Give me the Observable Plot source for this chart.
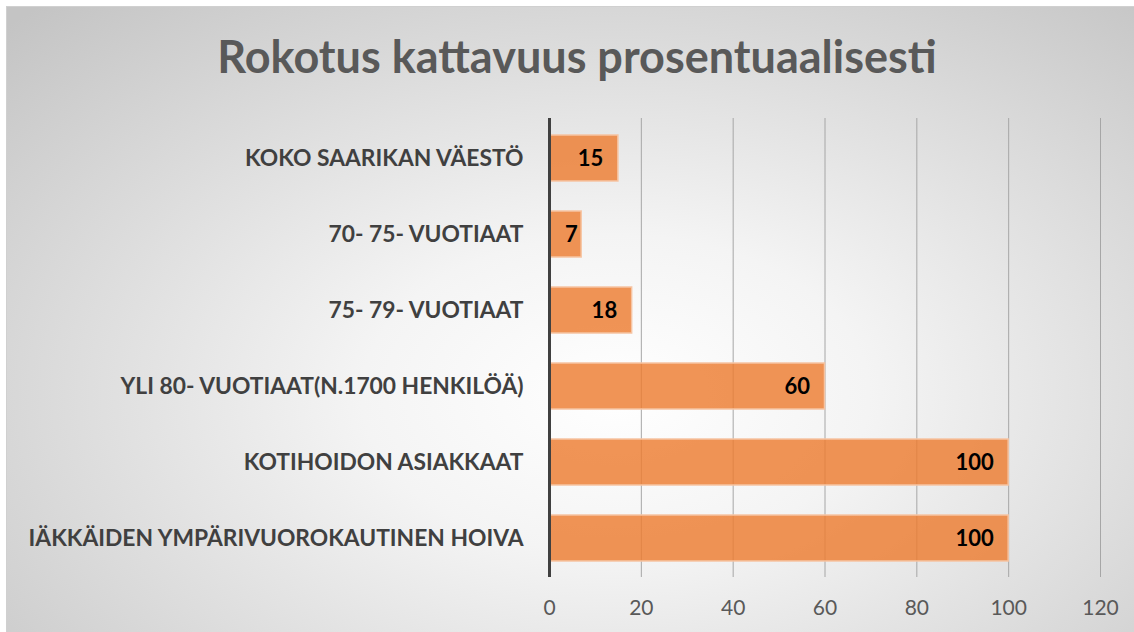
<!DOCTYPE html>
<html><head><meta charset="utf-8">
<script src="https://cdn.jsdelivr.net/npm/d3@7"></script>
<script src="https://cdn.jsdelivr.net/npm/@observablehq/plot@0.6"></script>
<style>
body{margin:0;background:#fff;}
#wrap{position:relative;width:1134px;height:632px;overflow:hidden;background:#fff;}
#bg{position:absolute;left:6px;top:6px;right:0;bottom:0;border-top:1px solid #d0d0d0;border-left:1px solid #d0d0d0;
  background:radial-gradient(ellipse 75% 85% at 54% 62%, #ffffff 0%, #f4f4f4 30%, #dcdcdc 65%, #c4c4c4 100%);}
#title{position:absolute;left:10px;top:29px;width:1134px;text-align:center;font-family:Lato,"Open Sans",sans-serif;font-weight:bold;font-size:45px;color:#595959;}
#chart{position:absolute;left:0;top:100px;}
</style>
</head><body>
<div id="wrap"><div id="bg"></div><div id="title">Rokotus kattavuus prosentuaalisesti</div><div id="chart"></div></div>
<script>
const categories = [
  "KOKO SAARIKAN VÄESTÖ",
  "70- 75- VUOTIAAT",
  "75- 79- VUOTIAAT",
  "YLI 80- VUOTIAAT(N.1700 HENKILÖÄ)",
  "KOTIHOIDON ASIAKKAAT",
  "IÄKKÄIDEN YMPÄRIVUOROKAUTINEN HOIVA"
];
const values = [15, 7, 18, 60, 100, 100];
const xTicks = [0, 20, 40, 60, 80, 100, 120];

const data = categories.map((c, i) => ({label: c, value: values[i]}));

const chart = Plot.plot({
  width: 1134,
  height: 532,
  marginLeft: 549,
  marginRight: 34,
  marginTop: 18,
  marginBottom: 55,
  style: {background: "transparent", fontFamily: "Lato, 'Open Sans', sans-serif", overflow: "visible"},
  x: {domain: [0, 120]},
  y: {domain: categories, paddingInner: 0.4, paddingOuter: 0.2},
  marks: [
    Plot.ruleX(xTicks.filter(t => t > 0), {stroke: "#a6a6a6", strokeWidth: 1}),
    Plot.barX(data, {x: "value", y: "label", fill: "#ED7D31", fillOpacity: 0.82, stroke: "#F6C4A2", strokeWidth: 1.5}),
    Plot.ruleX([0], {stroke: "#404040", strokeWidth: 3}),
    Plot.text(data, {filter: d => d.value >= 10, x: "value", y: "label", text: d => String(d.value), textAnchor: "end", dx: -15, fontWeight: "bold", fontSize: 22, fill: "#000"}),
    Plot.text(data, {filter: d => d.value < 10, x: "value", y: "label", text: d => String(d.value), textAnchor: "end", dx: -4, fontWeight: "bold", fontSize: 22, fill: "#000"}),
    Plot.axisY({tickSize: 0, tickPadding: 26, fontSize: 22.8, fontWeight: "bold", color: "#404040", label: null}),
    Plot.axisX({ticks: xTicks, tickSize: 0, tickPadding: 23, fontSize: 21, color: "#595959", label: null})
  ]
});
document.getElementById("chart").appendChild(chart);
</script>
</body></html>
